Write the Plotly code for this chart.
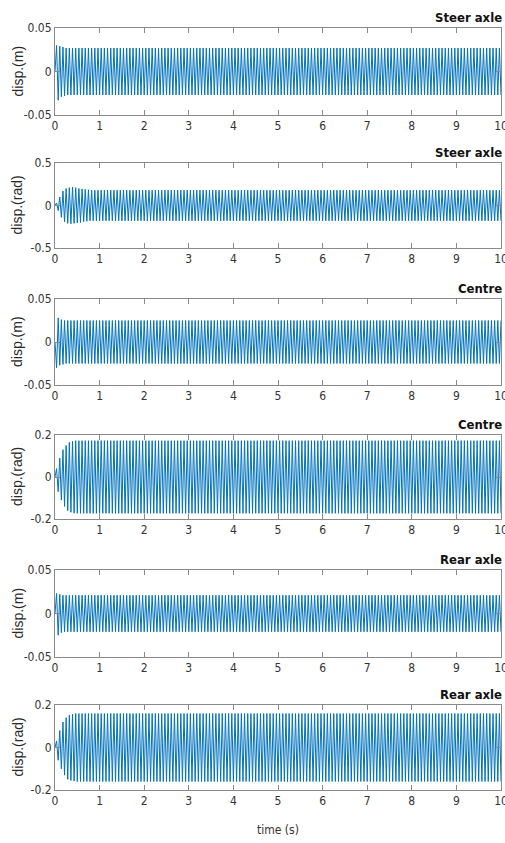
import numpy as np
import plotly.graph_objects as go

# ---------------- data ----------------
FREQ_HZ = 14.0          # visible oscillation frequency
T_END = 10.0

titles = ["Steer axle", "Steer axle", "Centre", "Centre", "Rear axle", "Rear axle"]
ylabels = ["disp.(m)", "disp.(rad)", "disp.(m)", "disp.(rad)", "disp.(m)", "disp.(rad)"]

# y tick values / labels per panel
ytick_vals = [[-0.05, 0, 0.05], [-0.5, 0, 0.5], [-0.05, 0, 0.05],
              [-0.2, 0, 0.2], [-0.05, 0, 0.05], [-0.2, 0, 0.2]]
ytick_text = [["-0.05", "0", "0.05"], ["-0.5", "0", "0.5"], ["-0.05", "0", "0.05"],
              ["-0.2", "0", "0.2"], ["-0.05", "0", "0.05"], ["-0.2", "0", "0.2"]]

xtick_vals = list(range(0, 11))
xtick_text = [str(v) for v in xtick_vals]

# first (transient) half-cycle peaks, signed, for each panel
transient_peaks = [
    [0.0, 0.030, -0.033, 0.029, -0.029, 0.028, -0.028],
    [0.0, 0.03, -0.06, 0.10, -0.14, 0.17, -0.19, 0.20, -0.21, 0.21, -0.215,
     0.215, -0.21, 0.21, -0.205, 0.20, -0.20, 0.195, -0.19, 0.19, -0.185,
     0.185, -0.18],
    [0.0, -0.030, 0.028, -0.027, 0.026, -0.026, 0.025],
    [0.0, 0.04, -0.07, 0.09, -0.11, 0.13, -0.14, 0.15, -0.16, 0.165, -0.168,
     0.17, -0.172],
    [0.0, 0.023, -0.025, 0.022, -0.022, 0.021, -0.021],
    [0.0, 0.03, -0.06, 0.08, -0.10, 0.12, -0.13, 0.14, -0.15, 0.152, -0.155,
     0.157, -0.158],
]
# steady-state amplitude per panel
steady_amp = [0.027, 0.18, 0.025, 0.173, 0.021, 0.16]

# ---------------- layout constants ----------------
W, H = 505, 843
X0, X1 = 55, 501
panel_px = [(28, 115), (163, 248), (299, 385), (435, 519), (570, 657), (705, 790)]

FONT = "DejaVu Sans Condensed, Liberation Sans Narrow, Liberation Sans, Arial, sans-serif"
LABEL_FONT = "Liberation Sans, Arial, sans-serif"
LINE_BLUE = "#0072BD"
AX_COL = "#8a8a8a"
TXT_COL = "#333333"

fig = go.Figure()

for i in range(6):
    peaks = list(transient_peaks[i])
    n_half = int(T_END * 2 * FREQ_HZ) + 1
    sign = -1.0 if peaks[-1] > 0 else 1.0
    while len(peaks) < n_half:
        peaks.append(sign * steady_amp[i])
        sign = -sign
    t = np.arange(len(peaks)) / (2 * FREQ_HZ)
    xa = "x" if i == 0 else f"x{i+1}"
    ya = "y" if i == 0 else f"y{i+1}"
    fig.add_trace(go.Scatter(x=t, y=peaks, mode="lines",
                             line=dict(color=LINE_BLUE, width=1),
                             xaxis=xa, yaxis=ya, showlegend=False,
                             hoverinfo="skip"))

    top, bot = panel_px[i]
    ydom = [1 - bot / H, 1 - top / H]
    axis_common = dict(showline=True, linecolor=AX_COL, linewidth=1, mirror="ticks",
                       ticks="inside", ticklen=5, tickcolor=AX_COL,
                       showgrid=False, zeroline=False, automargin=False,
                       ticklabeloverflow="allow",
                       tickfont=dict(family=FONT, size=12, color=TXT_COL))
    xkey = "xaxis" if i == 0 else f"xaxis{i+1}"
    ykey = "yaxis" if i == 0 else f"yaxis{i+1}"
    fig.update_layout(**{
        xkey: dict(domain=[X0 / W, X1 / W], range=[0, 10], anchor=ya,
                   tickvals=xtick_vals, ticktext=xtick_text, **axis_common),
        ykey: dict(domain=ydom, range=[ytick_vals[i][0], ytick_vals[i][-1]], anchor=xa,
                   tickvals=ytick_vals[i], ticktext=ytick_text[i], **axis_common),
    })
    # title (right aligned, bold)
    fig.add_annotation(text=f"<b>{titles[i]}</b>", xref="paper", yref="paper",
                       x=504 / W, y=1 - (top - 1) / H, xanchor="right", yanchor="bottom",
                       showarrow=False, font=dict(family=FONT, size=13, color="#111111"))
    # y label
    fig.add_annotation(text=ylabels[i], xref="paper", yref="paper",
                       x=17 / W, y=1 - ((top + bot) / 2) / H, xanchor="center",
                       yanchor="middle", textangle=-90, showarrow=False,
                       font=dict(family=LABEL_FONT, size=14, color="#2a2a2a"))

fig.add_annotation(text="time (s)", xref="paper", yref="paper",
                   x=278 / W, y=1 - 830 / H, xanchor="center", yanchor="middle",
                   showarrow=False, font=dict(family=FONT, size=12, color=TXT_COL))

fig.update_layout(width=W, height=H, margin=dict(l=0, r=0, t=0, b=0, autoexpand=False),
                  paper_bgcolor="white", plot_bgcolor="white")

fig.write_html("out.html", config={"displayModeBar": False, "staticPlot": True},
               post_script="document.body.style.margin='0';"
                           "document.body.style.overflow='hidden';")
